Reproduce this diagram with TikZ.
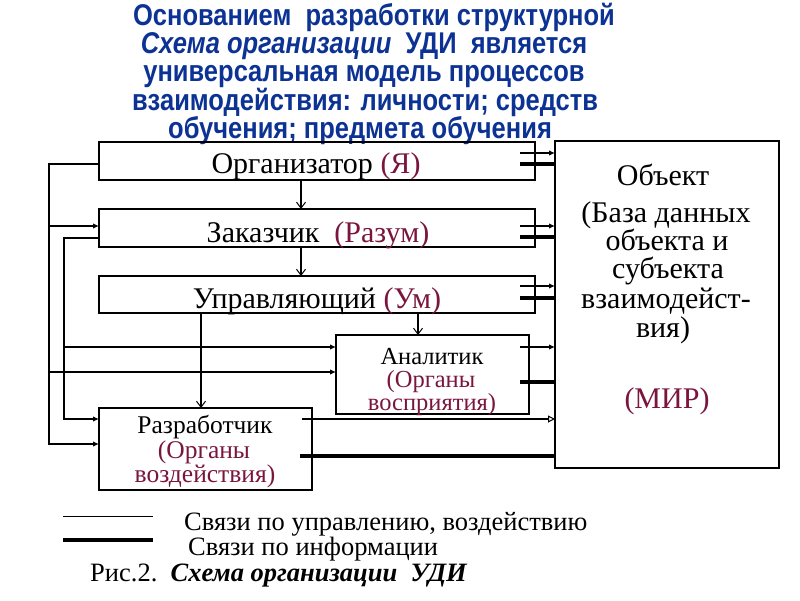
\documentclass[tikz,border=0pt]{standalone}
\usepackage{fontspec}
\setmainfont{Liberation Serif}
\newfontfamily\titlefont[FakeStretch=0.85]{Liberation Sans}
\usetikzlibrary{arrows.meta}
\definecolor{titleblue}{RGB}{12,50,148}
\definecolor{maroon}{RGB}{122,22,62}
\begin{document}
\begin{tikzpicture}[x=1pt,y=-1pt,
  box/.style={draw, line width=2pt, rectangle, inner sep=0pt, outer sep=0pt},
  txt/.style={inner sep=0pt, anchor=base},
  big/.style={font=\fontsize{30}{32}\selectfont},
  mid/.style={font=\fontsize{25.5}{27}\selectfont},
  sml/.style={font=\fontsize{24.5}{26}\selectfont},
  leg/.style={font=\fontsize{26.5}{28}\selectfont},
  ttl/.style={font=\titlefont\bfseries\fontsize{30}{30}\selectfont, text=titleblue},
  ctrl/.style={line width=1.3pt},
  thinleg/.style={line width=1pt},
  info/.style={line width=3.4pt},
  backline/.style={line width=1.8pt},
  fa/.style={-{Latex[length=6pt,width=5.5pt]}},
  va/.style={-{Straight Barb[length=6pt,width=9pt,line width=1pt]}},
  ta/.style={-{Triangle[open,length=7pt,width=7pt,line width=1pt]}}
]
\useasboundingbox (0,0) rectangle (800,600);
\fill[white] (0,0) rectangle (800,600);

% title
\node[txt,ttl] (t1) at (374,25) {Основанием\ \ разработки структурной};
\node[txt,ttl] (t2) at (364,53) {{\itshape Схема организации}\ \ УДИ\ \ является};
\node[txt,ttl] (t3) at (364,81) {универсальная модель процессов};
\node[txt,ttl] (t4) at (365,110) {взаимодействия: личности; средств};
\node[txt,ttl] (t5) at (360,138) {обучения; предмета обучения};

% boxes
\node[box, minimum width=436pt, minimum height=38pt] (org) at (317,161) {};
\node[box, minimum width=436pt, minimum height=38pt] (zak) at (317,228) {};
\node[box, minimum width=436pt, minimum height=37pt] (upr) at (317,294.5) {};
\node[box, minimum width=193pt, minimum height=79pt] (ana) at (432.5,374.5) {};
\node[box, minimum width=213pt, minimum height=82pt] (raz) at (205.5,449) {};
\node[box, minimum width=224pt, minimum height=327pt] (obj) at (667,304.5) {};

% box texts
\node[txt,big] (torg) at (316,173) {Организатор \textcolor{maroon}{(Я)}};
\node[txt,big] (tzak) at (318,242) {Заказчик\ \ \textcolor{maroon}{(Разум)}};
\node[txt,big] (tupr) at (317,308) {Управляющий \textcolor{maroon}{(Ум)}};
\node[txt,sml] (ta1) at (432,364) {Аналитик};
\node[txt,sml,text=maroon] (ta2) at (431,387) {(Органы};
\node[txt,sml,text=maroon] (ta3) at (432,410) {восприятия)};
\node[txt,mid] (tr1) at (205,433) {Разработчик};
\node[txt,mid,text=maroon] (tr2) at (204,458) {(Органы};
\node[txt,mid,text=maroon] (tr3) at (205,482) {воздействия)};
\node[txt,big] (to1) at (663,185) {Объект};
\node[txt,big] (to2) at (666,222) {(База данных};
\node[txt,big] (to3) at (667,250) {объекта и};
\node[txt,big] (to4) at (668,278) {субъекта};
\node[txt,big] (to5) at (666,308) {взаимодейст-};
\node[txt,big] (to6) at (663,337) {вия)};
\node[txt,big,text=maroon] (to7) at (667,408) {(МИР)};

% vertical control arrows
\coordinate (v1) at (301,0);
\coordinate (v2) at (201,0);
\coordinate (v3) at (418,0);
\draw[ctrl,va] (org.south -| v1) -- (zak.north -| v1);
\draw[ctrl,va] (zak.south -| v1) -- (upr.north -| v1);
\draw[ctrl,va] (upr.south -| v2) -- (raz.north -| v2);
\draw[ctrl,va] (upr.south -| v3) -- (ana.north -| v3);

% left feedback lines
\coordinate (c1) at (49,164);
\coordinate (c2) at (49,444);
\coordinate (c3) at (49,226);
\coordinate (c4) at (49,372);
\coordinate (d1) at (64,238);
\coordinate (d2) at (64,419);
\coordinate (d3) at (64,347);
\draw[backline,fa] (org.west |- c1) -- (c1) -- (c2) -- (raz.west |- c2);
\draw[backline,fa] (c3) -- (zak.west |- c3);
\draw[backline,fa] (c4) -- (ana.west |- c4);
\draw[backline,fa] (zak.west |- d1) -- (d1) -- (d2) -- (raz.west |- d2);
\draw[backline,fa] (d3) -- (ana.west |- d3);

% right lines to object
\coordinate (r1) at (520,153);
\coordinate (r2) at (520,164);
\coordinate (r3) at (520,226);
\coordinate (r4) at (520,237);
\coordinate (r5) at (520,286);
\coordinate (r6) at (520,298);
\coordinate (r7) at (520,347);
\coordinate (r8) at (520,382);
\coordinate (r9) at (302,419);
\coordinate (r10) at (300,456);
\draw[ctrl,fa] (r1) -- (r1 -| obj.west);
\draw[info] (r2) -- (r2 -| obj.west);
\draw[ctrl,fa] (r3) -- (r3 -| obj.west);
\draw[info] (r4) -- (r4 -| obj.west);
\draw[ctrl,fa] (r5) -- (r5 -| obj.west);
\draw[info] (r6) -- (r6 -| obj.west);
\draw[ctrl,fa] (r7) -- (r7 -| obj.west);
\draw[info] (r8) -- (r8 -| obj.west);
\draw[ctrl,ta] (r9) -- (r9 -| obj.west);
\draw[info] (r10) -- (r10 -| obj.west);

% legend
\draw[thinleg] (63,516) -- (153,516);
\draw[info] (63,540) -- (153,540);
\node[txt,leg,anchor=base west] (l1) at (184,530) {Связи по управлению, воздействию};
\node[txt,leg,anchor=base west] (l2) at (188,555) {Связи по информации};
\node[txt,leg,anchor=base west] (l3) at (90,581) {Рис.2.\ \ \textbf{\itshape Схема организации\ \ УДИ}};
\end{tikzpicture}
\end{document}
